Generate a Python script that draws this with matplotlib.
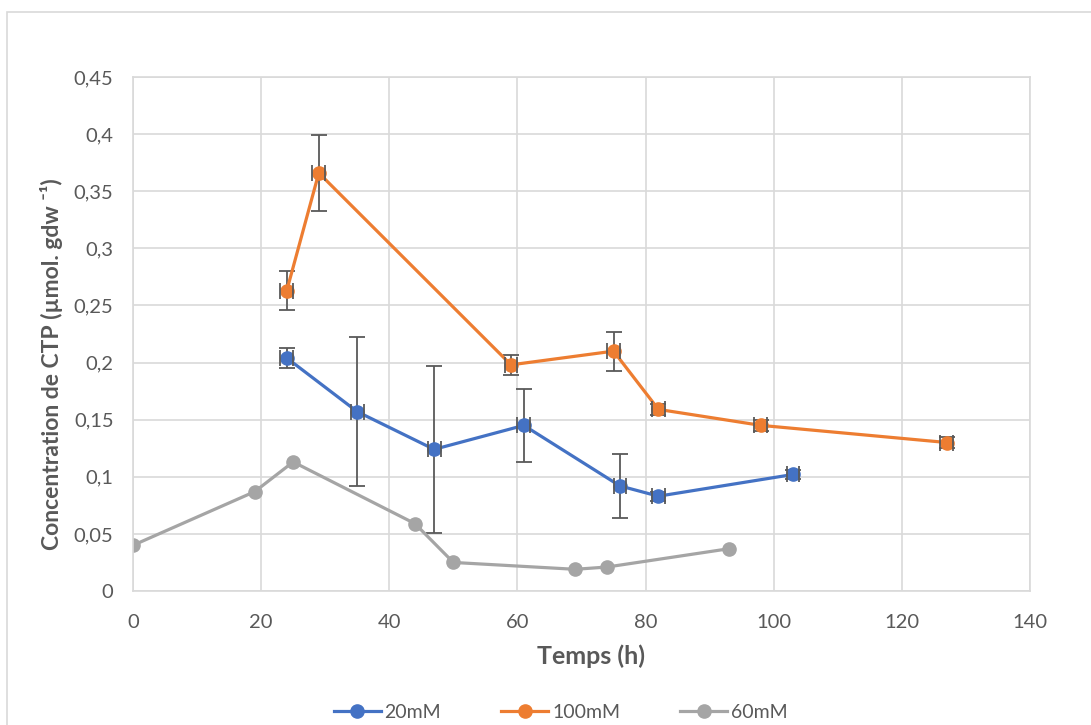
import matplotlib
matplotlib.use("Agg")
import matplotlib.pyplot as plt
from matplotlib.ticker import FuncFormatter, MultipleLocator
from matplotlib.patches import Rectangle

# Time (h) and CTP concentration per condition
t_20 = [24, 35, 47, 61, 76, 82, 103]
c_20 = [0.204, 0.157, 0.124, 0.145, 0.092, 0.083, 0.102]
err_20 = [0.009, 0.065, 0.073, 0.032, 0.028, 0.004, 0.004]

t_100 = [24, 29, 59, 75, 82, 98, 127]
c_100 = [0.263, 0.366, 0.198, 0.210, 0.159, 0.145, 0.130]
err_100 = [0.017, 0.033, 0.009, 0.017, 0.005, 0.005, 0.005]

t_60 = [0, 19, 25, 44, 50, 69, 74, 93]
c_60 = [0.040, 0.087, 0.113, 0.059, 0.025, 0.019, 0.021, 0.037]

x_err = 1.0

BLUE = "#4472C4"
ORANGE = "#ED7D31"
GRAY = "#A5A5A5"
TEXT = "#595959"
GRID = "#D9D9D9"

plt.rcParams["font.family"] = ["Lato", "DejaVu Sans"]

fig = plt.figure(figsize=(10.91, 7.25), dpi=100)
fig.patches.append(Rectangle((7 / 1091, -0.1), 1.2, 1 - 12 / 725 + 0.1,
                             transform=fig.transFigure, fill=False,
                             edgecolor=GRID, linewidth=1.2))
ax = fig.add_axes([133 / 1091, 1 - 591 / 725, 897 / 1091, 514 / 725])

lw = 2.3
ms = 9.5
for t, c, e, col, lab in [(t_20, c_20, err_20, BLUE, "20mM"),
                          (t_100, c_100, err_100, ORANGE, "100mM")]:
    # vertical error bars sit behind the markers
    ax.errorbar(t, c, yerr=e, fmt="none", ecolor=TEXT,
                elinewidth=1.3, capsize=5.8, capthick=1.3, zorder=1.5)
    ax.plot(t, c, color=col, lw=lw, marker="o", ms=ms, label=lab, zorder=2)
    # horizontal error bars: only their caps show beside the markers
    ax.errorbar(t, c, xerr=x_err, fmt="none", ecolor=TEXT,
                elinewidth=0, capsize=5.8, capthick=1.3, zorder=3)
ax.plot(t_60, c_60, color=GRAY, lw=lw, marker="o", ms=ms, label="60mM", zorder=2)

handles, labels = ax.get_legend_handles_labels()

ax.set_xlim(0, 140)
ax.set_ylim(0, 0.45)
ax.xaxis.set_major_locator(MultipleLocator(20))
ax.yaxis.set_major_locator(MultipleLocator(0.05))
ax.yaxis.set_major_formatter(FuncFormatter(lambda v, p: ("%g" % round(v, 2)).replace(".", ",")))
ax.grid(True, color=GRID, lw=1.2)
ax.set_axisbelow(True)
for s in ax.spines.values():
    s.set_color(GRID)
    s.set_linewidth(1.2)
ax.tick_params(length=0, labelsize=14.5, colors=TEXT)
ax.tick_params(axis="x", pad=16.5)
ax.tick_params(axis="y", pad=14)

ax.set_xlabel("Temps (h)", fontsize=18, fontweight="bold", color=TEXT)
ax.set_ylabel("Concentration de CTP (µmol. gdw ⁻¹)", fontsize=16.5,
              fontweight="bold", color=TEXT)
ax.xaxis.set_label_coords(0.5106, -0.103)
ax.yaxis.set_label_coords(-0.078, 0.4416)

leg = fig.legend(handles, labels, loc="center", bbox_to_anchor=(0.514, 1 - 712 / 725),
                 ncol=3, frameon=False, fontsize=14, handlelength=2.4,
                 columnspacing=3.1, handletextpad=0.2)
for txt in leg.get_texts():
    txt.set_color(TEXT)

fig.savefig("out.png", dpi=100)
